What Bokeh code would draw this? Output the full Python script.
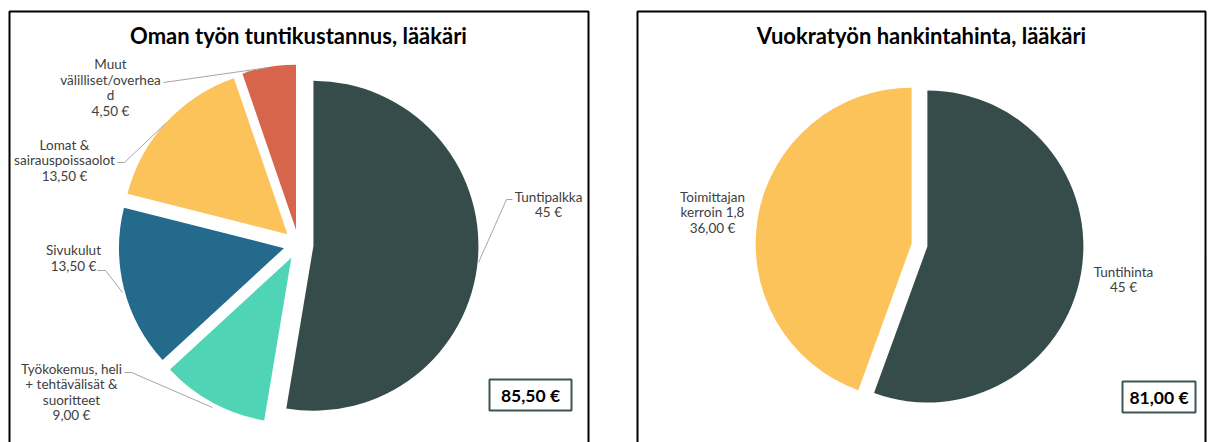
import math
from bokeh.plotting import figure
from bokeh.models import Range1d
from bokeh.core.properties import value
from bokeh.embed import file_html
from bokeh.resources import INLINE

# ---------------- data ----------------
left_title = "Oman työn tuntikustannus, lääkäri"
left_categories = ["Tuntipalkka",
                   "Työkokemus, heli + tehtävälisät & suoritteet",
                   "Sivukulut",
                   "Lomat & sairauspoissaolot",
                   "Muut välilliset/overhead"]
left_label_lines = ["Tuntipalkka",
                    "Työkokemus, heli\n+ tehtävälisät &\nsuoritteet",
                    "Sivukulut",
                    "Lomat &\nsairauspoissaolot",
                    "Muut\nvälilliset/overhea\nd"]
left_values = [45.0, 9.0, 13.5, 13.5, 4.5]
left_value_labels = ["45 €", "9,00 €", "13,50 €", "13,50 €", "4,50 €"]
left_colors = ["#354c4a", "#4fd5b5", "#236a8c", "#fdc35b", "#d6654c"]

right_title = "Vuokratyön hankintahinta, lääkäri"
right_categories = ["Tuntihinta", "Toimittajan kerroin 1,8"]
right_label_lines = ["Tuntihinta", "Toimittajan\nkerroin 1,8"]
right_values = [45.0, 36.0]
right_value_labels = ["45 €", "36,00 €"]
right_colors = ["#354c4a", "#fdc35b"]

# ---------------- layout helpers ----------------
W, H = 1213, 442
def X(px):
    return px
def Y(py):
    return H - py

p = figure(width=W, height=H, x_range=Range1d(0, W), y_range=Range1d(0, H),
           output_backend="svg", toolbar_location=None, min_border=0,
           x_axis_location=None, y_axis_location=None)
p.grid.visible = False
p.outline_line_color = None
p.background_fill_color = "white"
p.border_fill_color = "white"

LABEL_FONT = value("Lato")
LABEL_COLOR = "#404040"
LEADER_COLOR = "#a6a6a6"


def pie(cx, cy, r, explode, values, colors):
    total = sum(values)
    cum = 0.0
    xs, ys, sa, ea = [], [], [], []
    for v in values:
        t1 = cum / total * 2 * math.pi
        t2 = (cum + v) / total * 2 * math.pi
        tm = (t1 + t2) / 2
        xs.append(cx + explode * math.sin(tm))
        ys.append(cy + explode * math.cos(tm))
        sa.append(math.pi / 2 - t2)
        ea.append(math.pi / 2 - t1)
        cum += v
    p.wedge(x=xs, y=ys, radius=r, start_angle=sa, end_angle=ea,
            direction="anticlock", fill_color=colors, line_color=None)


def labels(pos, lines, vals):
    p.text(x=[X(a) for a, b in pos], y=[Y(b) for a, b in pos],
           text=[l + "\n" + v for l, v in zip(lines, vals)],
           text_font=LABEL_FONT, text_font_size=value("13.5px"),
           text_color=LABEL_COLOR, text_align="center",
           text_baseline="middle", text_line_height=0.97)


def panel(left, right, title, title_x):
    p.quad(left=[X(left)], right=[X(right)], top=[Y(11)], bottom=[-20],
           fill_alpha=0, line_color="black", line_width=2)
    p.text(x=[X(title_x)], y=[Y(35)], text=[title], text_font=value("Lato"),
           text_font_style="bold", text_font_size=value("22px"),
           text_color="black", text_align="center", text_baseline="middle")


def total_box(l, r, t, b, vals):
    s = sum(vals)
    txt = f"{s:.2f}".replace(".", ",") + " €"
    p.quad(left=[X(l)], right=[X(r)], top=[Y(t)], bottom=[Y(b)],
           fill_color="white", line_color="#3d5755", line_width=2)
    p.text(x=[X((l + r) / 2)], y=[Y((t + b) / 2)], text=[txt],
           text_font=value("Lato"), text_font_style="bold",
           text_font_size=value("17.5px"), text_color="black",
           text_align="center", text_baseline="middle")


# ---------------- left panel ----------------
panel(9, 588, left_title, 298)
pie(X(298), Y(244), 165, 15, left_values, left_colors)
leaders_left = [
    [(512, 199), (506, 199), (478, 262)],
    [(124, 372), (131, 372), (212, 407)],
    [(97, 270), (105, 270), (122, 292)],
    [(117, 162), (124, 162), (165, 123)],
    [(163, 82), (268, 67)],
]
p.multi_line(xs=[[X(a) for a, b in L] for L in leaders_left],
             ys=[[Y(b) for a, b in L] for L in leaders_left],
             line_color=LEADER_COLOR, line_width=1)
labels([(548, 204), (71, 391.5), (73, 257.5), (64, 160), (110, 87)],
       left_label_lines, left_value_labels)
total_box(489, 571, 379, 410, left_values)

# ---------------- right panel ----------------
panel(637, 1205, right_title, 921)
pie(X(919), Y(244.6), 156, 8, right_values, right_colors)
labels([(1123, 279), (712, 212)], right_label_lines, right_value_labels)
total_box(1122, 1195, 381, 412, right_values)

open("out.html", "w").write(file_html(p, INLINE))
